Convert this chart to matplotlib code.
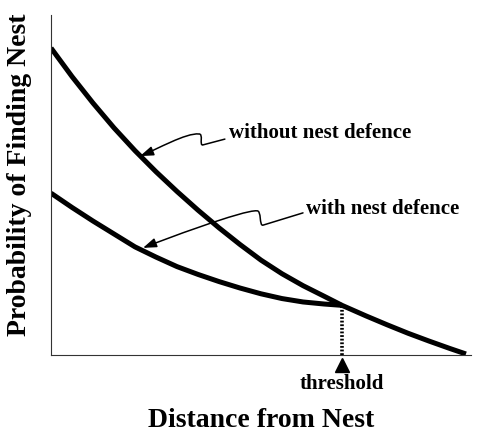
import matplotlib
matplotlib.use('Agg')
import matplotlib.pyplot as plt
from matplotlib.path import Path
from matplotlib.patches import FancyArrowPatch

plt.rcParams['font.family'] = ['Liberation Serif', 'DejaVu Serif']
plt.rcParams['font.weight'] = 'bold'

# curves (distance, probability)
dist_without = [0.0, 0.5, 1.0, 1.5, 2.0, 2.5, 3.0, 3.5, 4.0, 4.5, 5.0, 5.5, 6.0,
                6.5, 6.93, 7.5, 8.0, 8.5, 9.0, 9.5, 9.88]
prob_without = [0.903, 0.819, 0.741, 0.668, 0.601, 0.539, 0.481, 0.426, 0.374, 0.325,
                0.279, 0.239, 0.204, 0.173, 0.146, 0.115, 0.089, 0.064, 0.041, 0.019, 0.003]

dist_with = [0.0, 0.5, 1.0, 1.5, 2.0, 2.5, 3.0, 3.5, 4.0, 4.5, 5.0, 5.5, 6.0, 6.5, 6.93]
prob_with = [0.476, 0.434, 0.394, 0.356, 0.318, 0.288, 0.26, 0.237, 0.216, 0.197,
             0.18, 0.166, 0.156, 0.15, 0.146]

threshold_x = 6.93
threshold_y = 0.146

# labels: text position, arrow start, squiggle bottom, squiggle top, arrow tip
label_without = 'without nest defence'
pts_without = [(4.24, 0.653), (4.14, 0.635), (3.62, 0.618), (3.52, 0.65), (2.12, 0.585)]
label_with = 'with nest defence'
pts_with = [(6.07, 0.429), (6.0, 0.418), (5.05, 0.382), (4.9, 0.424), (2.19, 0.315)]


def squiggle_arrow(ax, pts):
    txt, start, kb, kt, end = pts
    verts = [start,
             (start[0] + (kb[0] - start[0]) / 3, start[1] + (kb[1] - start[1]) / 3),
             (start[0] + 2 * (kb[0] - start[0]) / 3, start[1] + 2 * (kb[1] - start[1]) / 3),
             kb,
             (kb[0] - 0.1, kb[1] - 0.004),
             (kt[0] + 0.12, kt[1] + 0.002),
             kt,
             (kt[0] - 0.3, kt[1] + 0.004),
             (end[0] + 0.4, end[1] + 0.02),
             end]
    codes = [Path.MOVETO] + [Path.CURVE4] * 9
    arr = FancyArrowPatch(path=Path(verts, codes),
                          arrowstyle='-|>,head_length=8,head_width=2.8',
                          lw=1.1, color='black', transform=ax.transData)
    ax.add_patch(arr)


fig = plt.figure(figsize=(4.86, 4.34), dpi=100)
ax = fig.add_axes([51 / 486, 79 / 434, 420 / 486, 340 / 434])

ax.plot(dist_without, prob_without, color='black', lw=3.6, solid_capstyle='butt')
ax.plot(dist_with, prob_with, color='black', lw=3.6, solid_capstyle='butt')

ax.plot([threshold_x, threshold_x], [0, threshold_y], color='black', lw=2.6,
        linestyle=(0, (0.5, 0.5)))
ax.plot([threshold_x], [-0.03], marker='^', color='black', markersize=10, clip_on=False)
ax.text(threshold_x, -0.085, 'threshold', ha='center', va='center', fontsize=15,
        fontweight='bold')

ax.text(pts_without[0][0], pts_without[0][1], label_without, ha='left', va='center',
        fontsize=15, fontweight='bold')
squiggle_arrow(ax, pts_without)
ax.text(pts_with[0][0], pts_with[0][1], label_with, ha='left', va='center',
        fontsize=15, fontweight='bold')
squiggle_arrow(ax, pts_with)

ax.set_xlim(0, 10)
ax.set_ylim(0, 1)
ax.set_xticks([])
ax.set_yticks([])
for s in ['top', 'right']:
    ax.spines[s].set_visible(False)
for s in ['left', 'bottom']:
    ax.spines[s].set_linewidth(0.8)
    ax.spines[s].set_color('#333333')

ax.set_xlabel('Distance from Nest', fontsize=20, fontweight='bold')
ax.set_ylabel('Probability of Finding Nest', fontsize=20, fontweight='bold')
ax.xaxis.set_label_coords(0.5, -0.155)
ax.yaxis.set_label_coords(-0.045, 0.53)

fig.savefig('out.png', dpi=100)
